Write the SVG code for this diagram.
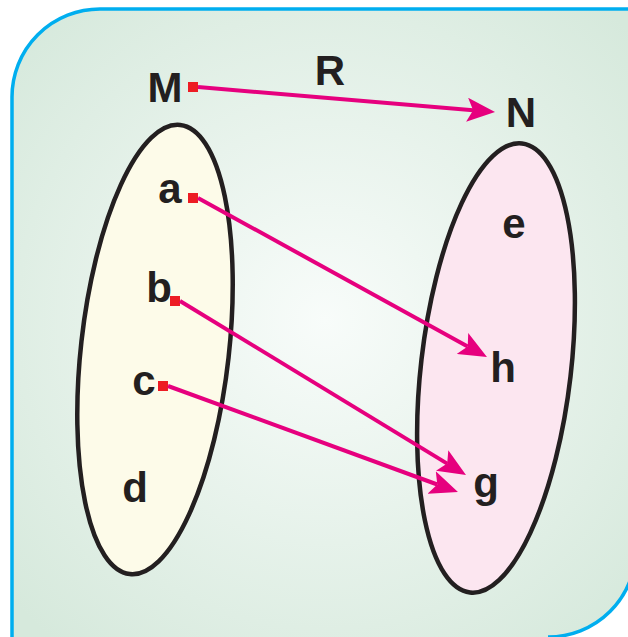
<svg xmlns="http://www.w3.org/2000/svg" width="628" height="637" viewBox="0 0 628 637">
  <defs>
    <radialGradient id="bg" gradientUnits="userSpaceOnUse" cx="325" cy="320" r="420">
      <stop offset="0" stop-color="#f8fcfa"/>
      <stop offset="1" stop-color="#d6e9dc"/>
    </radialGradient>
    <marker id="arrow" viewBox="0 0 28 24" markerUnits="userSpaceOnUse" markerWidth="28" markerHeight="24" refX="6" refY="12" orient="auto">
      <path d="M0,0 L28,12 L0,24 L6,12 Z" fill="#e6007e"/>
    </marker>
    <style>
      .lbl { font-family: "Liberation Sans", Arial, sans-serif; font-weight: bold; font-size: 42px; fill: #231f20; text-anchor: middle; }
      .set { stroke: #231f20; stroke-width: 4.5; }
      .dot { fill: #ed1c24; }
      .link { fill: none; stroke: #e6007e; stroke-width: 4; marker-end: url(#arrow); }
    </style>
  </defs>

  <g id="frame">
    <path d="M12,645 V97 A88,88 0 0 1 100,9 H645 V549 H636 A88,88 0 0 1 548,637 V645 Z" fill="url(#bg)"/>
    <path d="M12,645 V97 A88,88 0 0 1 100,9 H645 M636,549 A88,88 0 0 1 548,637" fill="none" stroke="#00aeef" stroke-width="3.5"/>
  </g>

  <g id="setM">
    <ellipse class="set" cx="155" cy="349.5" rx="74" ry="226" transform="rotate(6.4 155 349.5)" fill="#fdfbe9"/>
  </g>
  <g id="setN">
    <ellipse class="set" cx="496" cy="368" rx="75" ry="226" transform="rotate(6.6 496 368)" fill="#fce6f0"/>
  </g>

  <g id="nodeM"><text class="lbl" x="165" y="102">M</text><rect class="dot" x="188" y="82" width="10" height="10"/></g>
  <g id="nodeN"><text class="lbl" x="521" y="127">N</text></g>
  <g id="labelR"><text class="lbl" x="330" y="85">R</text></g>
  <g id="node-a"><text class="lbl" x="170" y="203">a</text><rect class="dot" x="188" y="193" width="10" height="10"/></g>
  <g id="node-b"><text class="lbl" x="159" y="302">b</text><rect class="dot" x="170" y="296" width="10" height="10"/></g>
  <g id="node-c"><text class="lbl" x="144" y="395">c</text><rect class="dot" x="158" y="381" width="10" height="10"/></g>
  <g id="node-d"><text class="lbl" x="135" y="502">d</text></g>
  <g id="node-e"><text class="lbl" x="514" y="238">e</text></g>
  <g id="node-h"><text class="lbl" x="503" y="382">h</text></g>
  <g id="node-g"><text class="lbl" x="486" y="497">g</text></g>

  <g id="connectors">
    <path class="link" d="M198,87 L473.1,110.2"/>
    <path class="link" d="M198,198 L467.7,346.4"/>
    <path class="link" d="M180,301 L447.2,463.6"/>
    <path class="link" d="M168,386 L437.3,484.5"/>
  </g>
</svg>
